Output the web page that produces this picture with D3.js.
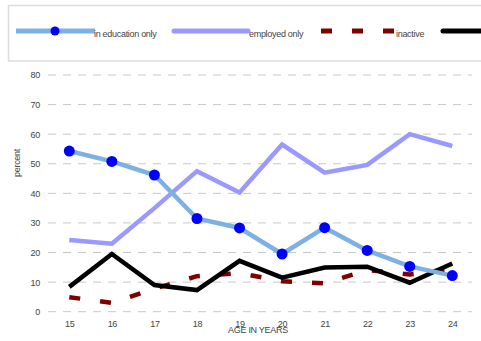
<!DOCTYPE html>
<html>
<head>
<meta charset="utf-8">
<script src="https://cdn.jsdelivr.net/npm/d3@7"></script>
<style>
  html, body { margin: 0; padding: 0; background: #fff; }
  svg { display: block; font-family: "Liberation Sans Narrow", "Liberation Sans", Arial, sans-serif; }
  svg text { letter-spacing: -0.3px; }
</style>
</head>
<body>
<svg id="chart" width="481" height="341"></svg>
<script>
// Ages on the x axis
const ages = [15, 16, 17, 18, 19, 20, 21, 22, 23, 24];
// Share of young people in each situation, percent
const educationOnly = [54.3, 50.8, 46.2, 31.5, 28.3, 19.5, 28.4, 20.7, 15.3, 12.2];
const employedOnly  = [24.2, 23.0, 35.0, 47.5, 40.3, 56.5, 47.0, 49.6, 60.0, 56.0];
const inactive      = [4.9, 3.0, 7.8, 12.0, 13.0, 10.3, 9.6, 14.1, 12.6, 14.5];
const unemployed    = [8.4, 19.5, 9.0, 7.3, 17.2, 11.5, 14.9, 15.2, 9.8, 16.3];
const yTicks = [0, 10, 20, 30, 40, 50, 60, 70, 80];

const svg = d3.select("#chart");

const x = d3.scalePoint().domain(ages).range([69.3, 452.3]);
const y = d3.scaleLinear().domain([0, 80]).range([311.7, 75]);

// Legend frame
svg.append("rect")
  .attr("x", 8.5).attr("y", 5.5).attr("width", 490).attr("height", 55.5)
  .attr("fill", "none").attr("stroke", "#dcdcdc").attr("stroke-width", 1.5);

// Gridlines
svg.append("g").selectAll("line").data(yTicks).join("line")
  .attr("x1", 48).attr("x2", 472)
  .attr("y1", d => y(d)).attr("y2", d => y(d))
  .attr("stroke", "#c8c8c8").attr("stroke-width", 1)
  .attr("stroke-dasharray", "8,7");

// Y axis labels
const yAxis = d3.axisLeft(y).tickValues(yTicks).tickSize(0).tickPadding(0);
const gy = svg.append("g").attr("transform", "translate(40,0)").call(yAxis);
gy.select(".domain").remove();
gy.selectAll("text").attr("font-size", 9).attr("fill", "#444")
  .attr("font-family", "'Liberation Sans Narrow', 'Liberation Sans', Arial, sans-serif");

// X axis labels
const xAxis = d3.axisBottom(x).tickSize(0).tickPadding(0);
const gx = svg.append("g").attr("transform", "translate(0,321)").call(xAxis);
gx.select(".domain").remove();
gx.selectAll("text").attr("font-size", 9).attr("fill", "#444")
  .attr("font-family", "'Liberation Sans Narrow', 'Liberation Sans', Arial, sans-serif");

// Axis titles
svg.append("text").attr("x", 258).attr("y", 333).attr("text-anchor", "middle")
  .attr("font-size", 9).attr("fill", "#444").text("AGE IN YEARS");
svg.append("text").attr("transform", "translate(20,163) rotate(-90)")
  .attr("text-anchor", "middle").attr("font-size", 9).attr("fill", "#444").text("percent");

const line = d3.line().x((d, i) => x(ages[i])).y(d => y(d));

// Series
svg.append("path").datum(employedOnly).attr("d", line)
  .attr("fill", "none").attr("stroke", "#9999ff").attr("stroke-width", 4.5)
  .attr("stroke-linejoin", "miter");
svg.append("path").datum(inactive).attr("d", line)
  .attr("fill", "none").attr("stroke", "#800000").attr("stroke-width", 4.5)
  .attr("stroke-dasharray", "11,20");
svg.append("path").datum(unemployed).attr("d", line)
  .attr("fill", "none").attr("stroke", "#000").attr("stroke-width", 4.5)
  .attr("stroke-linejoin", "miter");
svg.append("path").datum(educationOnly).attr("d", line)
  .attr("fill", "none").attr("stroke", "#7eb1e3").attr("stroke-width", 4.5);
svg.append("g").selectAll("circle").data(educationOnly).join("circle")
  .attr("cx", (d, i) => x(ages[i])).attr("cy", d => y(d)).attr("r", 5.5)
  .attr("fill", "#0000ff");

// Legend entries
const lg = svg.append("g");
lg.append("line").attr("x1", 16).attr("x2", 95).attr("y1", 31).attr("y2", 31)
  .attr("stroke", "#7eb1e3").attr("stroke-width", 5);
lg.append("circle").attr("cx", 55).attr("cy", 31).attr("r", 4.5).attr("fill", "#0000ff");
lg.append("text").attr("x", 94).attr("y", 37).attr("font-size", 9).attr("fill", "#444").text("in education only");

lg.append("line").attr("x1", 174).attr("x2", 248).attr("y1", 31).attr("y2", 31)
  .attr("stroke", "#9999ff").attr("stroke-width", 5).attr("stroke-linecap", "round");
lg.append("text").attr("x", 249).attr("y", 37).attr("font-size", 9).attr("fill", "#444").text("employed only");

lg.append("line").attr("x1", 321).attr("x2", 394).attr("y1", 31).attr("y2", 31)
  .attr("stroke", "#800000").attr("stroke-width", 5).attr("stroke-dasharray", "11,20");
lg.append("text").attr("x", 396).attr("y", 37).attr("font-size", 9).attr("fill", "#444").text("inactive");

lg.append("line").attr("x1", 443).attr("x2", 520).attr("y1", 31).attr("y2", 31)
  .attr("stroke", "#000").attr("stroke-width", 5).attr("stroke-linecap", "round");
</script>
</body>
</html>
